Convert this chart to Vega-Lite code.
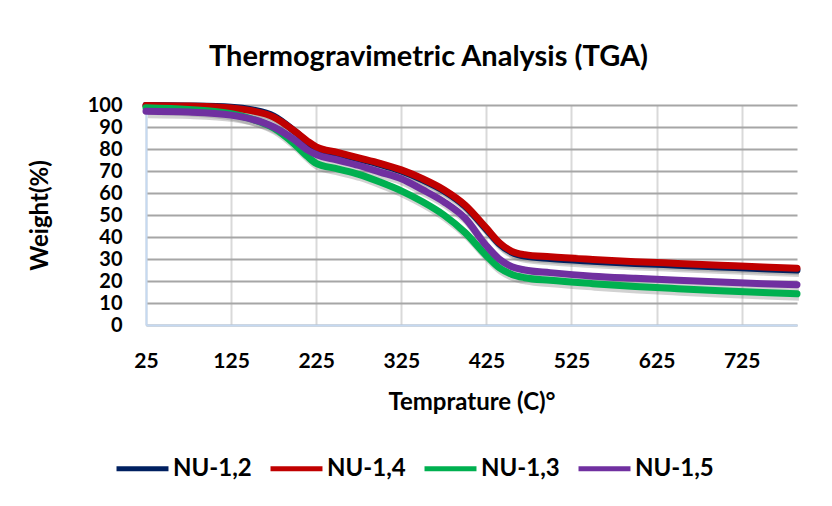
{
  "$schema": "https://vega.github.io/schema/vega-lite/v6.json",
  "autosize": {"type": "none"},
  "width": 651,
  "height": 220,
  "padding": {"left": 146, "top": 105, "right": 35, "bottom": 181},
  "background": "white",
  "config": {
    "font": "Lato",
    "view": {"stroke": null},
    "axis": {"labelFont": "Lato", "titleFont": "Lato", "labelFontWeight": "bold", "titleFontWeight": "bold", "labelColor": "#000000", "titleColor": "#000000"}
  },
  "title": {"text": "Thermogravimetric Analysis (TGA)", "font": "Lato", "fontSize": 29, "fontWeight": "bold", "color": "#000000", "offset": 19, "dx": -43},
  "data": {"values": [
    {"T":25,"s":"NU-1,2","w":99.8},{"T":75,"s":"NU-1,2","w":99.6},{"T":125,"s":"NU-1,2","w":99.0},{"T":150,"s":"NU-1,2","w":97.8},{"T":175,"s":"NU-1,2","w":95.0},{"T":200,"s":"NU-1,2","w":88.0},{"T":215,"s":"NU-1,2","w":83.0},{"T":225,"s":"NU-1,2","w":80.5},{"T":250,"s":"NU-1,2","w":78.0},{"T":275,"s":"NU-1,2","w":75.5},{"T":300,"s":"NU-1,2","w":73.0},{"T":325,"s":"NU-1,2","w":70.0},{"T":350,"s":"NU-1,2","w":66.0},{"T":375,"s":"NU-1,2","w":61.0},{"T":400,"s":"NU-1,2","w":54.0},{"T":425,"s":"NU-1,2","w":43.5},{"T":440,"s":"NU-1,2","w":37.0},{"T":455,"s":"NU-1,2","w":33.0},{"T":470,"s":"NU-1,2","w":31.3},{"T":500,"s":"NU-1,2","w":30.2},{"T":550,"s":"NU-1,2","w":29.0},{"T":600,"s":"NU-1,2","w":28.0},{"T":650,"s":"NU-1,2","w":27.2},{"T":700,"s":"NU-1,2","w":26.4},{"T":750,"s":"NU-1,2","w":25.6},{"T":790,"s":"NU-1,2","w":25.0},
    {"T":25,"s":"NU-1,4","w":99.8},{"T":75,"s":"NU-1,4","w":99.5},{"T":125,"s":"NU-1,4","w":98.6},{"T":150,"s":"NU-1,4","w":97.3},{"T":175,"s":"NU-1,4","w":94.5},{"T":200,"s":"NU-1,4","w":88.0},{"T":215,"s":"NU-1,4","w":83.5},{"T":225,"s":"NU-1,4","w":81.0},{"T":250,"s":"NU-1,4","w":78.5},{"T":275,"s":"NU-1,4","w":76.0},{"T":300,"s":"NU-1,4","w":73.5},{"T":325,"s":"NU-1,4","w":70.5},{"T":350,"s":"NU-1,4","w":66.5},{"T":375,"s":"NU-1,4","w":61.5},{"T":400,"s":"NU-1,4","w":54.5},{"T":425,"s":"NU-1,4","w":44.0},{"T":440,"s":"NU-1,4","w":37.5},{"T":455,"s":"NU-1,4","w":33.5},{"T":470,"s":"NU-1,4","w":32.0},{"T":500,"s":"NU-1,4","w":31.0},{"T":550,"s":"NU-1,4","w":29.8},{"T":600,"s":"NU-1,4","w":28.8},{"T":650,"s":"NU-1,4","w":28.0},{"T":700,"s":"NU-1,4","w":27.2},{"T":750,"s":"NU-1,4","w":26.4},{"T":790,"s":"NU-1,4","w":25.8},
    {"T":25,"s":"NU-1,3","w":98.8},{"T":75,"s":"NU-1,3","w":98.0},{"T":125,"s":"NU-1,3","w":96.0},{"T":150,"s":"NU-1,3","w":93.5},{"T":175,"s":"NU-1,3","w":89.5},{"T":200,"s":"NU-1,3","w":82.0},{"T":215,"s":"NU-1,3","w":76.5},{"T":225,"s":"NU-1,3","w":73.5},{"T":250,"s":"NU-1,3","w":71.0},{"T":275,"s":"NU-1,3","w":68.5},{"T":300,"s":"NU-1,3","w":65.0},{"T":325,"s":"NU-1,3","w":61.0},{"T":350,"s":"NU-1,3","w":56.0},{"T":375,"s":"NU-1,3","w":50.0},{"T":400,"s":"NU-1,3","w":42.0},{"T":425,"s":"NU-1,3","w":31.5},{"T":440,"s":"NU-1,3","w":26.0},{"T":455,"s":"NU-1,3","w":23.0},{"T":470,"s":"NU-1,3","w":21.5},{"T":500,"s":"NU-1,3","w":20.3},{"T":550,"s":"NU-1,3","w":18.8},{"T":600,"s":"NU-1,3","w":17.5},{"T":650,"s":"NU-1,3","w":16.5},{"T":700,"s":"NU-1,3","w":15.6},{"T":750,"s":"NU-1,3","w":14.8},{"T":790,"s":"NU-1,3","w":14.2},
    {"T":25,"s":"NU-1,5","w":97.2},{"T":75,"s":"NU-1,5","w":96.8},{"T":125,"s":"NU-1,5","w":95.4},{"T":150,"s":"NU-1,5","w":93.5},{"T":175,"s":"NU-1,5","w":90.0},{"T":200,"s":"NU-1,5","w":84.0},{"T":215,"s":"NU-1,5","w":79.5},{"T":225,"s":"NU-1,5","w":77.5},{"T":250,"s":"NU-1,5","w":75.0},{"T":275,"s":"NU-1,5","w":72.5},{"T":300,"s":"NU-1,5","w":69.5},{"T":325,"s":"NU-1,5","w":66.5},{"T":350,"s":"NU-1,5","w":61.5},{"T":375,"s":"NU-1,5","w":56.0},{"T":400,"s":"NU-1,5","w":48.5},{"T":425,"s":"NU-1,5","w":36.0},{"T":440,"s":"NU-1,5","w":30.0},{"T":455,"s":"NU-1,5","w":26.5},{"T":470,"s":"NU-1,5","w":25.0},{"T":500,"s":"NU-1,5","w":23.8},{"T":550,"s":"NU-1,5","w":22.2},{"T":600,"s":"NU-1,5","w":21.2},{"T":650,"s":"NU-1,5","w":20.3},{"T":700,"s":"NU-1,5","w":19.5},{"T":750,"s":"NU-1,5","w":18.8},{"T":790,"s":"NU-1,5","w":18.3}
  ]},
  "encoding": {
    "x": {"field": "T", "type": "quantitative", "scale": {"domain": [25, 790], "nice": false, "zero": false},
      "axis": {"title": "Temprature (C)°", "values": [25,125,225,325,425,525,625,725], "labelFontSize": 21, "titleFontSize": 24, "ticks": false, "labelPadding": 25, "titlePadding": 19, "domainColor": "#C5D9F1", "domainWidth": 2, "gridColor": "#D9D9D9", "gridWidth": 2, "labelFlush": false}},
    "y": {"field": "w", "type": "quantitative", "scale": {"domain": [0, 100], "nice": false},
      "axis": {"title": "Weight(%)", "values": [0,10,20,30,40,50,60,70,80,90,100], "labelFontSize": 20, "titleFontSize": 24, "ticks": false, "labelPadding": 24, "titlePadding": 35, "domainColor": "#C5D9F1", "domainWidth": 2, "gridColor": "#A6A6A6", "gridWidth": 2, "labelFlush": false, "labelOverlap": false}}
  },
  "layer": [
    {
      "mark": {"type": "line", "interpolate": "monotone", "strokeWidth": 8, "color": "#7F7F7F", "strokeOpacity": 0.35, "yOffset": 3, "xOffset": 2},
      "encoding": {"detail": {"field": "s"}}
    },
    {
      "mark": {"type": "line", "interpolate": "monotone", "strokeWidth": 7, "strokeCap": "round"},
      "encoding": {
        "color": {"field": "s", "type": "nominal", "sort": null,
          "scale": {"domain": ["NU-1,2","NU-1,4","NU-1,3","NU-1,5"], "range": ["#002060","#C00000","#00B050","#7030A0"]},
          "legend": {"title": null, "orient": "none", "legendX": -32, "legendY": 335, "direction": "horizontal", "columns": 4,
            "symbolType": "stroke", "symbolSize": 2700, "symbolStrokeWidth": 5, "labelFontSize": 24, "labelFont": "Lato", "labelFontWeight": "bold", "labelColor": "#000000",
            "labelOffset": 2, "gridAlign": "all", "columnPadding": 8}}
      }
    }
  ]
}
